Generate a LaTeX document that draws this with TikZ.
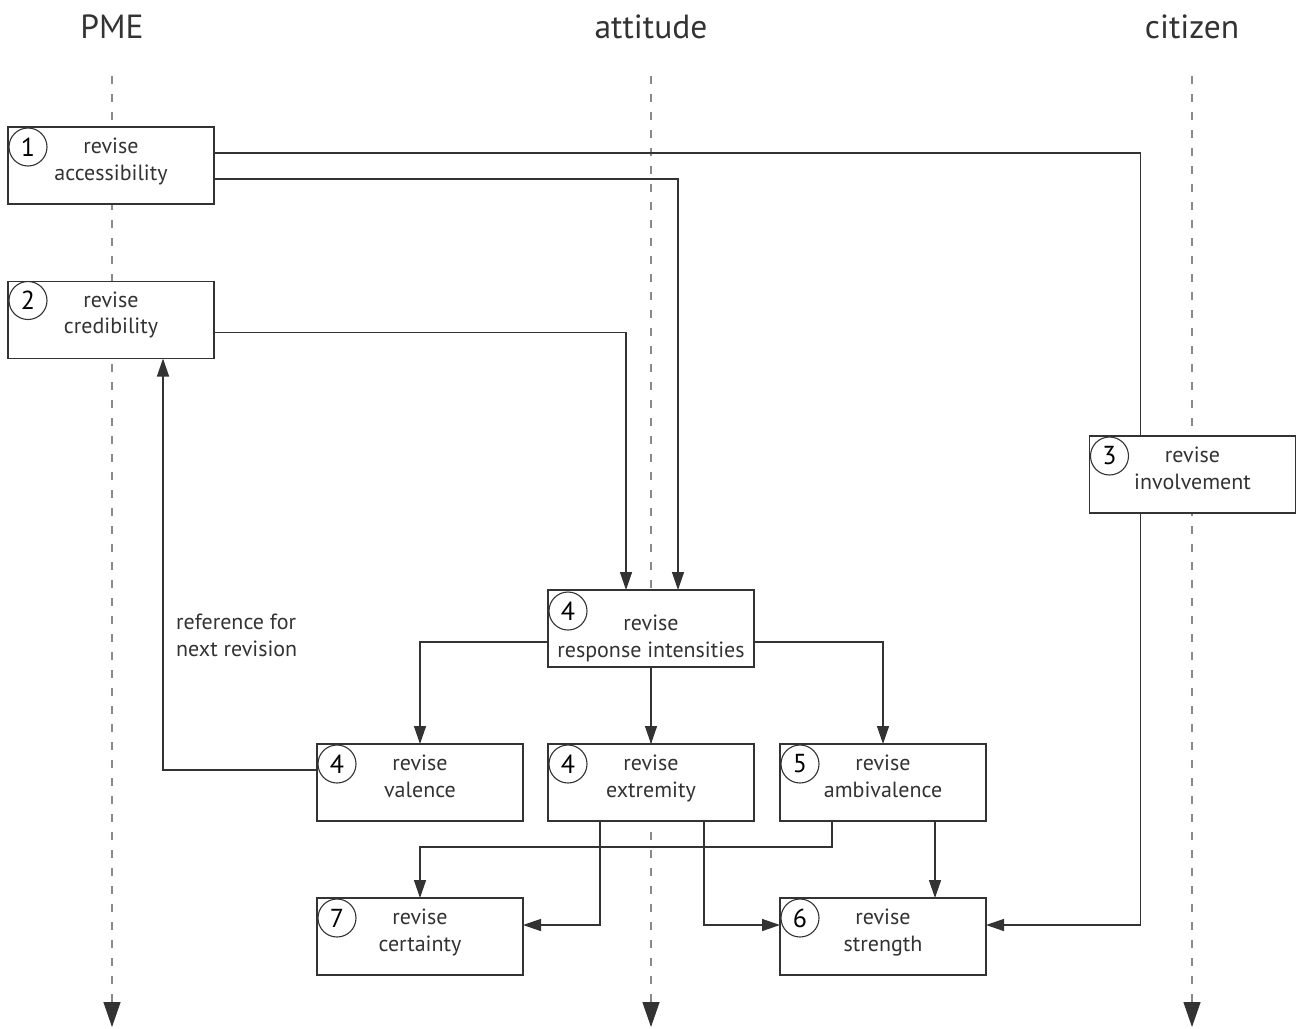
\documentclass[tikz,border=0pt]{standalone}
\usepackage{fontspec}
\setmainfont{PT Sans}
\usetikzlibrary{arrows.meta,calc}

\definecolor{linec}{HTML}{333333}
\definecolor{lanec}{HTML}{8A8A8A}

\begin{document}
\begin{tikzpicture}[x=1pt,y=-1pt,
  box/.style={draw=linec, line width=1.4pt, fill=white, minimum width=206pt,
    minimum height=77pt, inner sep=0pt, outer sep=0pt},
  num/.style={circle, draw=linec, line width=1.1pt, minimum size=38pt, inner sep=0pt,
    font=\fontsize{26}{26}\selectfont},
  boxtext/.style={align=center, anchor=base, inner sep=0pt,
    font=\fontsize{22}{26.5}\selectfont, text=linec},
  lanetitle/.style={font=\fontsize{33.5}{33.5}\selectfont, text=linec, inner sep=0pt},
  lane/.style={draw=lanec, line width=1.3pt, dash pattern=on 8pt off 10pt,
    -{Triangle[length=25pt,width=17pt,fill=linec,color=linec]}},
  conn/.style={draw=linec, line width=1.4pt, -{Triangle[length=18pt,width=12pt]}},
  plain/.style={draw=linec, line width=1.4pt}
]
\useasboundingbox (0,0) rectangle (1298,1028);

% swimlane headers and lifelines
\node[lanetitle] (tpme) at (112,27) {PME};
\node[lanetitle] (tatt) at (651,27) {attitude};
\node[lanetitle] (tcit) at (1192,27) {citizen};
\coordinate (pmetop) at (112,76);
\coordinate (pmebot) at (112,1027);
\coordinate (atttop) at (651,76);
\coordinate (attbot) at (651,1027);
\coordinate (cittop) at (1192,76);
\coordinate (citbot) at (1192,1027);
\draw[lane] (pmetop) -- (pmebot);
\draw[lane] (atttop) -- (attbot);
\draw[lane] (cittop) -- (citbot);

% process boxes
\node[box] (b1) at (111,165.5) {};
\node[box] (b2) at (111,320) {};
\node[box] (b3) at (1192.5,474.5) {};
\node[box] (b4) at (651,628.5) {};
\node[box] (bv) at (420,782.5) {};
\node[box] (be) at (651,782.5) {};
\node[box] (ba) at (883,782.5) {};
\node[box] (bc) at (420,936.5) {};
\node[box] (bs) at (883,936.5) {};

% connectors
\draw[plain] ($(b1.north east)+(0,26)$) -| ($(b3.north west)+(51,0)$);
\draw[conn] ($(b1.north east)+(0,52)$) -| ($(b4.north)+(27,0)$);
\draw[conn] ($(b2.north east)+(0,51)$) -| ($(b4.north)+(-25,0)$);
\draw[conn] ($(bv.north west)+(0,26)$) -| ($(b2.south west)+(155,0)$);
\draw[conn] ($(b4.north west)+(0,52)$) -| (bv.north);
\draw[conn] ($(b4.north east)+(0,52)$) -| (ba.north);
\draw[conn] (b4.south) -- (be.north);
\draw[conn] ($(be.south west)+(52,0)$) |- ($(bc.north east)+(0,27)$);
\draw[conn] ($(be.south west)+(156,0)$) |- ($(bs.north west)+(0,27)$);
\draw[conn] ($(ba.south west)+(52,0)$) -- ++(0,26) -| (bc.north);
\draw[conn] ($(ba.south west)+(155,0)$) -- ($(bs.north west)+(155,0)$);
\draw[conn] ($(b3.south west)+(51,0)$) |- ($(bs.north east)+(0,27)$);

% box texts (anchored on the baseline of the second line)
\node[boxtext] (t1) at ($(b1.north)+(0,53)$) {revise\\accessibility};
\node[boxtext] (t2) at ($(b2.north)+(0,52)$) {revise\\credibility};
\node[boxtext] (t3) at ($(b3.north)+(0,53)$) {revise\\involvement};
\node[boxtext] (t4) at ($(b4.north)+(0,67)$) {revise\\response intensities};
\node[boxtext] (tv) at ($(bv.north)+(0,53)$) {revise\\valence};
\node[boxtext] (te) at ($(be.north)+(0,53)$) {revise\\extremity};
\node[boxtext] (ta) at ($(ba.north)+(0,53)$) {revise\\ambivalence};
\node[boxtext] (tc) at ($(bc.north)+(0,53)$) {revise\\certainty};
\node[boxtext] (ts) at ($(bs.north)+(0,53)$) {revise\\strength};

% step numbers
\node[num] (n1) at ($(b1.north west)+(20,20)$) {1};
\node[num] (n2) at ($(b2.north west)+(20,19)$) {2};
\node[num] (n3) at ($(b3.north west)+(20,20)$) {3};
\node[num] (n4) at ($(b4.north west)+(20,21)$) {4};
\node[num] (nv) at ($(bv.north west)+(20,20)$) {4};
\node[num] (ne) at ($(be.north west)+(20,20)$) {4};
\node[num] (na) at ($(ba.north west)+(20,20)$) {5};
\node[num] (nc) at ($(bc.north west)+(20,20)$) {7};
\node[num] (ns) at ($(bs.north west)+(20,20)$) {6};

% feedback label
\node[anchor=base west, align=left, inner sep=0pt, font=\fontsize{22}{27}\selectfont,
  text=linec] (lbl) at (176,656) {reference for\\next revision};
\end{tikzpicture}
\end{document}
